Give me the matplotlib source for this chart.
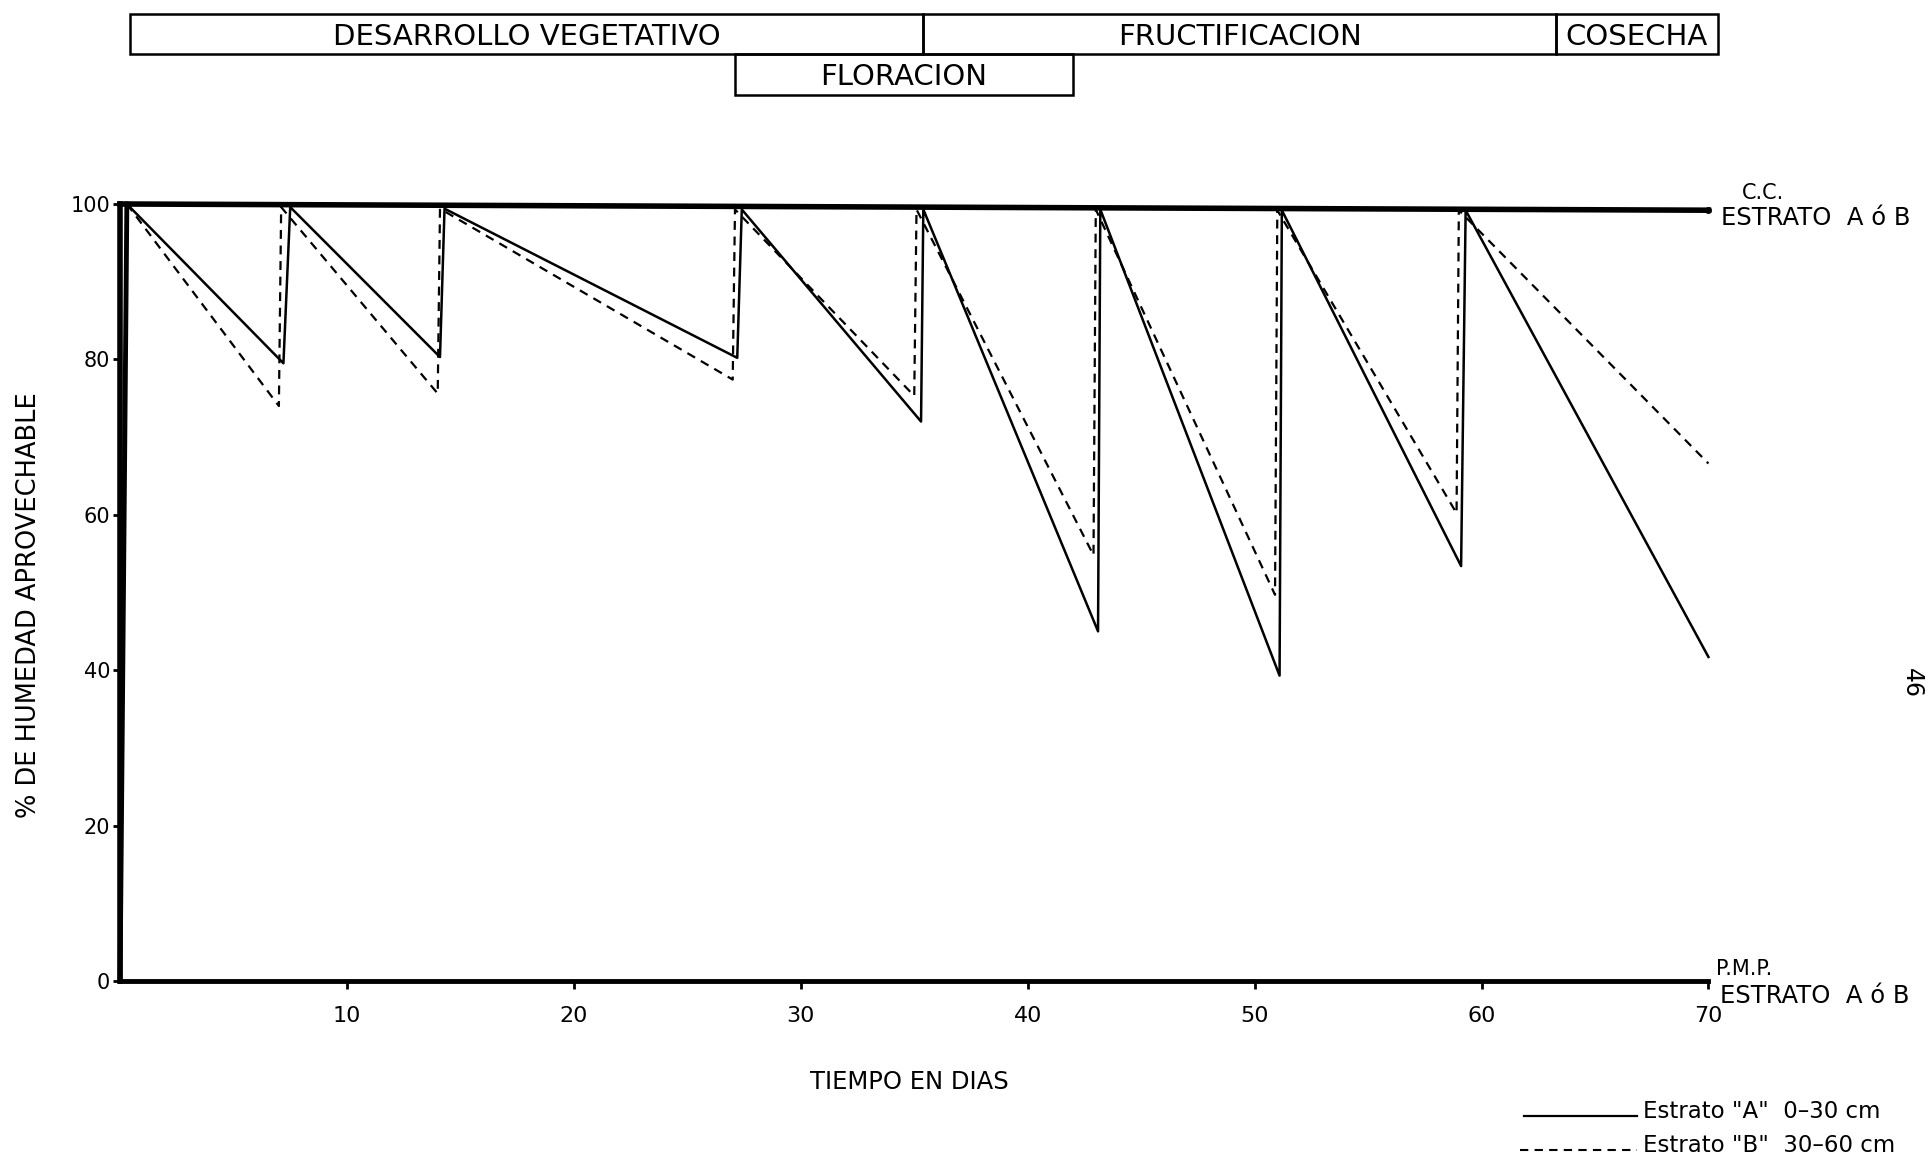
import matplotlib.pyplot as plt
import matplotlib.transforms as mtransforms
from matplotlib.patches import Rectangle

# Estrato "A" 0-30 cm (solid)
dias_a = [0, 0.3, 7.2, 7.5, 14.1, 14.3, 27.2, 27.4, 35.3, 35.4, 43.1, 43.2,
          51.1, 51.2, 59.1, 59.3, 70]
hum_a = [0, 100, 79.5, 99.6, 80.3, 99.4, 80.2, 99.3, 72.0, 99.3, 45.0, 99.3,
         39.3, 99.2, 53.4, 99.2, 41.7]

# Estrato "B" 30-60 cm (dashed)
dias_b = [0.3, 7.0, 7.1, 14.0, 14.1, 27.0, 27.1, 35.0, 35.1, 42.9, 43.0,
          50.9, 51.0, 58.9, 59.0, 70]
hum_b = [100, 74.0, 99.6, 75.6, 99.4, 77.4, 99.3, 75.3, 99.3, 54.8, 99.3,
         49.7, 99.2, 60.2, 99.2, 66.6]

# capacidad de campo
cc_x = [0, 70]
cc_y = [100, 99.2]

# etapas del cultivo (inicio, fin, fila)
etapas = ["DESARROLLO VEGETATIVO", "FRUCTIFICACION", "COSECHA", "FLORACION"]
etapa_ini = [0.45, 35.4, 63.3, 27.1]
etapa_fin = [35.4, 63.3, 70.4, 42.0]
etapa_fila = [0, 0, 0, 1]

x_ticks = [10, 20, 30, 40, 50, 60, 70]
y_ticks = [0, 20, 40, 60, 80, 100]

fig = plt.figure(figsize=(19.3, 11.67), dpi=100)
ax = fig.add_axes([0.0622, 0.1594, 0.8230, 0.6658])

ax.plot(dias_a[:2], hum_a[:2], color='black', lw=3.5, clip_on=False, zorder=3)
ax.plot(dias_a, hum_a, color='black', lw=1.8, clip_on=False, zorder=3)
ax.plot(dias_b, hum_b, color='black', lw=1.6, ls=(0, (4, 3)), clip_on=False, zorder=3)
ax.plot(cc_x, cc_y, color='black', lw=4, clip_on=False, zorder=4)
ax.plot([70], [99.2], 'o', color='black', ms=4, clip_on=False)

ax.set_xlim(0, 70)
ax.set_ylim(0, 100)
for s in ['top', 'right']:
    ax.spines[s].set_visible(False)
ax.spines['left'].set_linewidth(4)
ax.spines['bottom'].set_linewidth(3.5)

ax.set_xticks(x_ticks)
ax.set_yticks(y_ticks)
ax.tick_params(axis='x', direction='out', length=6, width=2, pad=12, labelsize=16)
ax.tick_params(axis='y', direction='out', length=5, width=2, pad=2, labelsize=15)

ax.set_xlabel("TIEMPO EN DIAS", fontsize=17.5)
ax.xaxis.set_label_coords(0.497, -0.114)
ax.set_ylabel("% DE HUMEDAD APROVECHABLE", fontsize=18.5)
ax.yaxis.set_label_coords(-0.049, 0.484)

# etiquetas a la derecha
ax.text(1.021, 1.014, "C.C.", transform=ax.transAxes, fontsize=15, va='center', ha='left')
ax.text(1.008, 0.982, "ESTRATO  A ó B", transform=ax.transAxes, fontsize=17.5, va='center', ha='left')
ax.text(1.005, 0.016, "P.M.P.", transform=ax.transAxes, fontsize=15, va='center', ha='left')
ax.text(1.007, -0.019, "ESTRATO  A ó B", transform=ax.transAxes, fontsize=17.5, va='center', ha='left')

# cuadro de etapas
trans = mtransforms.blended_transform_factory(ax.transData, ax.transAxes)
fila_y = [(1.193, 1.244), (1.140, 1.193)]
for nombre, x0, x1, f in zip(etapas, etapa_ini, etapa_fin, etapa_fila):
    y0, y1 = fila_y[f]
    ax.add_patch(Rectangle((x0, y0), x1 - x0, y1 - y0, transform=trans,
                           fill=False, lw=1.8, ec='black', clip_on=False))
    ax.text((x0 + x1) / 2, (y0 + y1) / 2 - 0.003, nombre, transform=trans,
            ha='center', va='center', fontsize=21)

# leyenda
fig.add_artist(plt.Line2D([1524 / 1930, 1637 / 1930], [1 - 1116 / 1167] * 2, color='black', lw=1.6))
fig.add_artist(plt.Line2D([1520 / 1930, 1637 / 1930], [1 - 1150 / 1167] * 2, color='black', lw=1.5,
                          ls=(0, (4, 3))))
fig.text(1643 / 1930, 1 - 1112 / 1167, 'Estrato "A"  0–30 cm', fontsize=16.5, va='center')
fig.text(1643 / 1930, 1 - 1146 / 1167, 'Estrato "B"  30–60 cm', fontsize=16.5, va='center')

fig.text(1912 / 1930, 1 - 683 / 1167, "46", rotation=-90, fontsize=17, ha='center', va='center')

fig.savefig("out.png", dpi=100, facecolor='white')
